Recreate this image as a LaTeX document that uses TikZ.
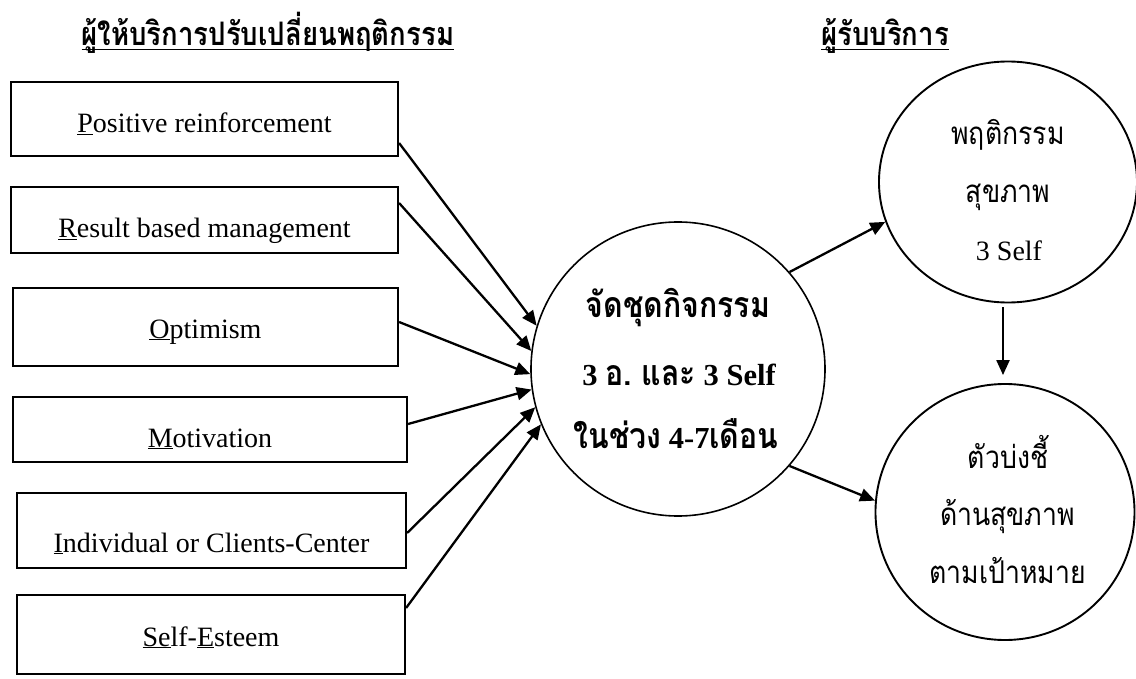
\documentclass[tikz,border=0pt]{standalone}
\usepackage{fontspec}
\setmainfont{Liberation Serif}
\newfontfamily\thai[Script=Thai,FakeStretch=0.85]{Loma}
\newcommand\cth[1]{{\thai\fontsize{35.6}{40}\selectfont #1}}
\usetikzlibrary{arrows.meta,shapes.geometric}
\begin{document}
\begin{tikzpicture}[x=1pt,y=-1pt,
  box/.style={draw,line width=2.2pt,inner sep=0pt,text depth=0pt,font=\fontsize{28}{34}\selectfont},
  arr/.style={line width=2.3pt,-{Triangle[length=15pt,width=13pt]}},
  title/.style={anchor=base,inner sep=0pt,font=\thai\bfseries\fontsize{32.4}{38}\selectfont},
  ctext/.style={anchor=base,inner sep=0pt,font=\bfseries\fontsize{30.5}{36}\selectfont},
  etext/.style={anchor=base,inner sep=0pt,font=\fontsize{28}{34}\selectfont},
  ethai/.style={anchor=base,inner sep=0pt,font=\thai\fontsize{31.3}{36}\selectfont},
  uline/.style={line width=1.8pt}
]
\useasboundingbox (0,0) rectangle (1136,679);

% titles
\node[title] (t1) at (268,46) {ผู้ให้บริการปรับเปลี่ยนพฤติกรรม};
\draw[uline] ([yshift=-3.5pt]t1.base west) -- ([yshift=-3.5pt]t1.base east);
\node[title] (t2) at (885,46) {ผู้รับบริการ};
\draw[uline] ([yshift=-3.5pt]t2.base west) -- ([yshift=-3.5pt]t2.base east);

% boxes
\node[box,minimum width=387pt,minimum height=74pt,text height=28pt] (b1) at (204.5,119) {\underline{P}ositive reinforcement};
\node[box,minimum width=387pt,minimum height=66pt,text height=36pt] (b2) at (204.5,220) {\underline{R}esult based management};
\node[box,minimum width=385pt,minimum height=78pt,text height=22pt] (b3) at (205.5,327) {\underline{O}ptimism};
\node[box,minimum width=394pt,minimum height=65pt,text height=35pt] (b4) at (210,429.5) {\underline{M}otivation};
\node[box,minimum width=389pt,minimum height=75pt,text height=43pt] (b5) at (211.5,530.5) {\underline{I}ndividual or Clients-Center};
\node[box,minimum width=388pt,minimum height=79pt,text height=23pt] (b6) at (211,634.5) {\underline{Se}lf-\underline{E}steem};

% central circle
\node[draw,circle,line width=1.6pt,minimum size=294pt,inner sep=0pt] (c) at (678,369) {};
\node[ctext] (c1) at (678,318) {\cth{จัดชุดกิจกรรม}};
\node[ctext] (c2) at (679,385) {3 \cth{อ.} \cth{และ} 3 Self};
\node[ctext] (c3) at (676,448) {\cth{ในช่วง} 4-7\cth{เดือน}};

% right ellipses
\node[draw,ellipse,line width=1.9pt,minimum width=258pt,minimum height=241pt,inner sep=0pt] (e1) at (1008,182) {};
\node[ethai] (e1a) at (1008,145) {พฤติกรรม};
\node[ethai] (e1b) at (1008,203) {สุขภาพ};
\node[etext] (e1c) at (1009,261) {3 Self};

\node[draw,ellipse,line width=1.9pt,minimum width=259pt,minimum height=256pt,inner sep=0pt] (e2) at (1005,512) {};
\node[ethai] (e2a) at (1008,468) {ตัวบ่งชี้};
\node[ethai] (e2b) at (1007.5,525) {ด้านสุขภาพ};
\node[ethai] (e2c) at (1007.5,583) {ตามเป้าหมาย};

% arrows into circle
\draw[arr] ([yshift=-24pt]b1.east) -- (c.163.7);
\draw[arr] ([yshift=17pt]b2.east) -- (c.173.6);
\draw[arr] ([yshift=5pt]b3.east) -- (c.182.3);
\draw[arr] ([yshift=5.5pt]b4.east) -- (c.188.2);
\draw[arr] ([yshift=-2.5pt]b5.east) -- (c.195.3);
\draw[arr] ([yshift=26.5pt]b6.east) -- (c.202.8);

% arrows out
\draw[arr] (c.41.5) -- (e1.198.9);
\draw[arr] (c.319.5) -- (e2.175.6);
\draw[arr] ([shift={(-5pt,-4pt)}]e1.south) -- ([shift={(-2pt,8pt)}]e2.north);
\end{tikzpicture}
\end{document}
